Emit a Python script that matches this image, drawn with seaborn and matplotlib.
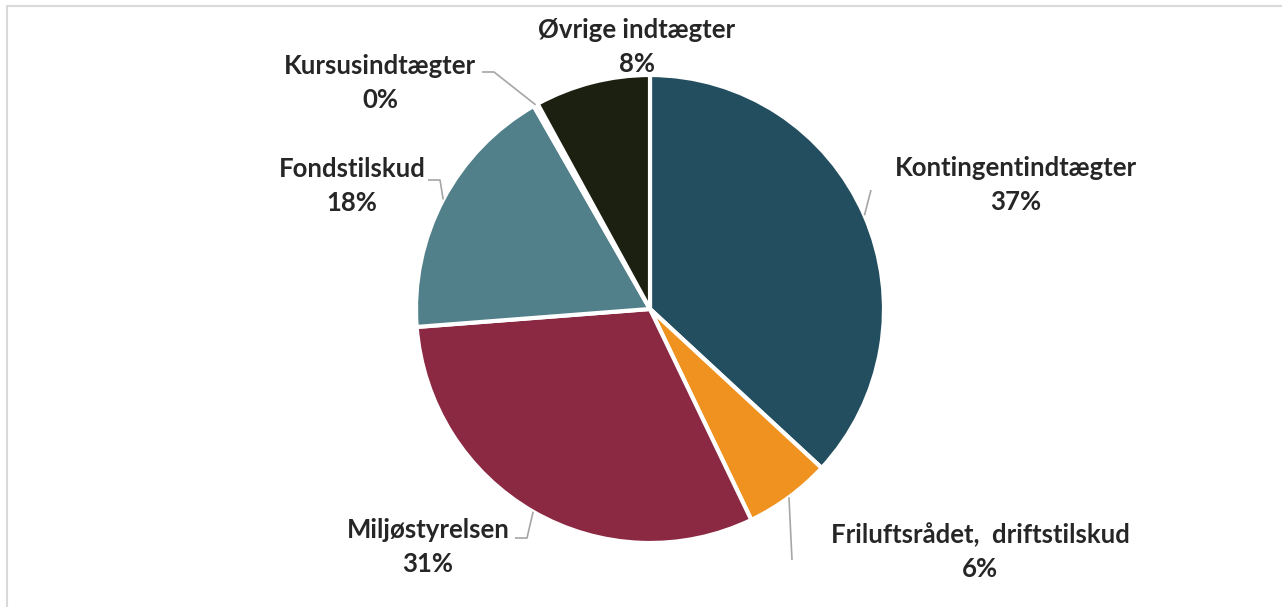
import numpy as np
import seaborn as sns
import matplotlib.pyplot as plt
from matplotlib.patches import Rectangle

# data
categories = ["Kontingentindtægter", "Friluftsrådet,  driftstilskud", "Miljøstyrelsen",
              "Fondstilskud", "Kursusindtægter", "Øvrige indtægter"]
shares = [37.0, 6.0, 31.0, 18.0, 0.3, 8.0]
pct_labels = ["37%", "6%", "31%", "18%", "0%", "8%"]
colors = ["#234E5F", "#F0921F", "#8B2942", "#52808A", "#3A4A3A", "#1C2010"]

# label anchors (pixel coords, y down) and leader elbow points
label_pos = [(1016, 185), (980, 552), (428, 547), (352, 186), (380, 83), (637, 47)]
leader_pts = [(871, 190), (792, 560), (515, 538), (428, 180), (482, 72), None]

W, H = 1282, 607
CX, CY, R = 650, 309, 234

sns.set_theme(style="white")
plt.rcParams["font.family"] = ["Lato", "DejaVu Sans"]

fig = plt.figure(figsize=(W / 100, H / 100), dpi=100)
ax = fig.add_axes([0, 0, 1, 1])

wedges, _ = ax.pie(
    shares,
    colors=colors,
    startangle=90,
    counterclock=False,
    center=(CX, H - CY),
    radius=R,
    wedgeprops=dict(edgecolor="white", linewidth=3),
    frame=True,
)
ax.set_xlim(0, W)
ax.set_ylim(0, H)
ax.set_aspect("equal")
ax.axis("off")

for i, w in enumerate(wedges):
    lx, ly = label_pos[i]
    ax.text(lx, H - ly, f"{categories[i]}\n{pct_labels[i]}", ha="center", va="center",
            fontsize=18.5, fontweight="bold", color="#262626", linespacing=1.5)
    if leader_pts[i] is None:
        continue
    mid = np.deg2rad((w.theta1 + w.theta2) / 2)
    ex, ey = CX + R * np.cos(mid), (H - CY) + R * np.sin(mid)
    px, py = leader_pts[i]
    if i == 0 or i == 1:
        xs, ys = [px, ex], [H - py, ey]
    else:
        xs, ys = [px, px + 12, ex], [H - py, H - py, ey]
    ax.plot(xs, ys, color="#A6A6A6", lw=1.2, solid_capstyle="butt")

# chart area border
fig.patches.append(Rectangle((7 / W, -0.1), 1.2, (H - 6) / H + 0.1,
                             transform=fig.transFigure, fill=False,
                             edgecolor="#D9D9D9", lw=1.5))

fig.savefig("out.png", dpi=100)
plt.close(fig)
